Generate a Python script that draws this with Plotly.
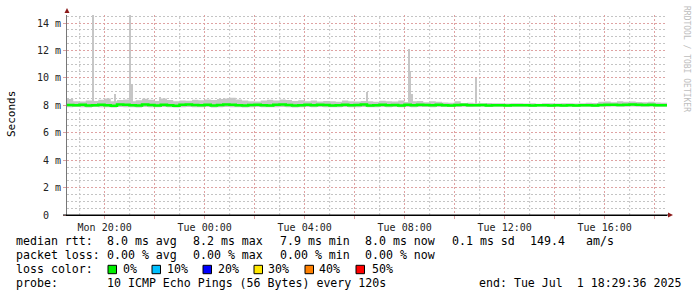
import pandas as pd
import plotly.graph_objects as go

# ---------------- data ----------------
start = "2025-06-30 18:29:36"
end = "2025-07-01 18:29:36"
bin_freq = "15min"

median_ms = [8.02, 8.00, 8.03, 7.98, 8.01, 8.04, 8.00, 7.97, 8.05, 8.03,
             8.00, 7.98, 8.06, 8.02, 7.99, 8.04, 8.01, 7.96, 8.03, 8.05,
             8.02, 8.00, 8.04, 7.99, 8.02, 8.06, 8.03, 8.00, 7.98, 8.02,
             8.04, 8.01, 7.99, 8.03, 8.05, 8.02, 7.98, 8.01, 8.03, 8.00,
             8.04, 8.02, 7.99, 8.01, 8.03, 8.00, 8.02, 8.05, 7.99, 8.01,
             8.03, 8.00, 8.02, 7.98, 8.03, 8.01, 8.04, 8.02, 8.00, 8.03,
             8.01, 7.99, 8.02, 8.03, 8.00, 8.01, 8.02, 7.99, 8.00, 8.01,
             7.99, 8.00, 8.01, 8.00, 7.99, 8.00, 8.01, 7.99, 8.00, 7.98,
             8.00, 7.99, 8.01, 8.00, 7.99, 8.02, 8.03, 8.04, 8.02, 8.03,
             8.05, 8.03, 8.02, 8.04, 8.01, 8.00, 8.00]

smoke_hi_ms = [8.45, 8.30, 8.28, 8.35, 8.32, 8.40, 8.50, 8.30, 8.38, 8.42,
               8.30, 8.36, 8.48, 8.40, 8.32, 8.50, 8.38, 8.30, 8.35, 8.33,
               8.40, 8.36, 8.42, 8.38, 8.45, 8.50, 8.55, 8.42, 8.35, 8.30,
               8.28, 8.35, 8.40, 8.34, 8.42, 8.38, 8.32, 8.36, 8.30, 8.34,
               8.28, 8.32, 8.30, 8.26, 8.34, 8.30, 8.28, 8.32, 8.30, 8.26,
               8.33, 8.30, 8.28, 8.35, 8.24, 8.30, 8.32, 8.22, 8.30, 8.26,
               8.20, 8.18, 8.30, 8.16, 8.18, 8.14, 8.15, 8.16, 8.14, 8.15,
               8.13, 8.14, 8.15, 8.13, 8.14, 8.12, 8.15, 8.14, 8.13, 8.15,
               8.14, 8.13, 8.15, 8.18, 8.16, 8.25, 8.28, 8.22, 8.30, 8.26,
               8.28, 8.24, 8.22, 8.26, 8.20, 8.18, 8.18]

smoke_lo_ms = [7.86, 7.88, 7.85, 7.84, 7.87, 7.85, 7.86, 7.83, 7.88, 7.86,
               7.85, 7.84, 7.87, 7.86, 7.85, 7.88, 7.86, 7.83, 7.86, 7.87,
               7.86, 7.85, 7.87, 7.84, 7.86, 7.88, 7.86, 7.85, 7.84, 7.86,
               7.87, 7.86, 7.85, 7.86, 7.88, 7.86, 7.84, 7.86, 7.87, 7.85,
               7.87, 7.86, 7.85, 7.86, 7.87, 7.85, 7.86, 7.88, 7.85, 7.86,
               7.87, 7.86, 7.87, 7.85, 7.87, 7.86, 7.88, 7.87, 7.86, 7.87,
               7.88, 7.87, 7.88, 7.89, 7.88, 7.89, 7.90, 7.88, 7.89, 7.90,
               7.89, 7.90, 7.90, 7.89, 7.88, 7.89, 7.90, 7.88, 7.89, 7.88,
               7.89, 7.88, 7.90, 7.89, 7.88, 7.89, 7.90, 7.91, 7.89, 7.90,
               7.91, 7.90, 7.89, 7.90, 7.89, 7.89, 7.89]

spike_times = ["2025-06-30 19:32", "2025-06-30 20:24", "2025-06-30 21:01",
               "2025-06-30 21:07", "2025-06-30 22:13", "2025-07-01 06:30",
               "2025-07-01 08:10", "2025-07-01 08:14", "2025-07-01 08:19",
               "2025-07-01 10:51"]
spike_top_ms = [14.7, 8.8, 14.6, 9.5, 8.6, 8.95, 12.1, 10.5, 8.8, 10.0]
spike_base_ms = 7.95

y_label_alias = {"0": "0\u00a0\u00a0", "2": "2 m", "4": "4 m", "6": "6 m", "8": "8 m",
                 "10": "10 m", "12": "12 m", "14": "14 m"}
x_hidden_labels = ["Mon 22:00", "Tue 02:00", "Tue 06:00", "Tue 10:00", "Tue 14:00", "Tue 18:00"]
x_minor_grid = ["2025-06-30 19:00", "2025-06-30 21:00", "2025-06-30 23:00",
                "2025-07-01 01:00", "2025-07-01 03:00", "2025-07-01 05:00",
                "2025-07-01 07:00", "2025-07-01 09:00", "2025-07-01 11:00",
                "2025-07-01 13:00", "2025-07-01 15:00", "2025-07-01 17:00"]

loss_labels = ["0%", "10%", "20%", "30%", "40%", "50%"]
loss_colors = ["#00ee00", "#00c0ff", "#0000ff", "#ffe800", "#ff8000", "#ff0000"]

rtt_stats = ["8.0 ms avg", "8.2 ms max", "7.9 ms min", "8.0 ms now", "0.1 ms sd", "149.4", "am/s"]
loss_stats = ["0.00 % avg", "0.00 % max", "0.00 % min", "0.00 % now"]
probe_text = "10 ICMP Echo Pings (56 Bytes) every 120s"
end_text = "end: Tue Jul\u00a0\u00a01 18:29:36 2025"

# ---------------- layout constants (pixels) ----------------
W, H = 697, 297
L, R, T, B = 67, 30, 15, 82
PW, PH = W - L - R, H - T - B
MONO = "DejaVu Sans Mono"
DOTS = "2px,2px"


def px(xp):
    return (xp - L) / PW


def py(yp):
    return (H - B - yp) / PH


times = pd.date_range(start, periods=len(median_ms), freq=bin_freq)

fig = go.Figure()

fig.add_trace(go.Scatter(x=times, y=smoke_lo_ms, mode="lines", line=dict(width=0, shape="hv"),
                         hoverinfo="skip", showlegend=False))
fig.add_trace(go.Scatter(x=times, y=smoke_hi_ms, mode="lines", line=dict(width=0, shape="hv"),
                         fill="tonexty", fillcolor="#c6c6c6", hoverinfo="skip", showlegend=False))
fig.add_trace(go.Bar(x=pd.to_datetime(spike_times), y=[v - spike_base_ms for v in spike_top_ms],
                     base=spike_base_ms, width=170000, marker=dict(color="#c6c6c6", line=dict(width=0)),
                     showlegend=False))
fig.add_trace(go.Scatter(x=times, y=median_ms, mode="lines",
                         line=dict(color="#00ff00", width=2.5, shape="hv"), showlegend=False))

grid_major = "#dfa2a2"
grid_minor = "#c4c4c4"

fig.update_layout(
    xaxis=dict(type="date", range=[start, end],
               tickmode="linear", tick0="2025-06-30 20:00", dtick=7200000,
               tickformat="%a %H:%M", labelalias={k: "\u00a0" for k in x_hidden_labels},
               showgrid=True, gridcolor=grid_major, gridwidth=1, griddash=DOTS,
               ticks="outside", ticklen=3, tickcolor=grid_major,
               showline=True, linecolor="#000000", linewidth=1,
               tickfont=dict(family=MONO, size=10, color="#222222"),
               zeroline=False, fixedrange=True),
    yaxis=dict(range=[0, 14.583],
               tickmode="linear", tick0=0, dtick=2, labelalias=y_label_alias,
               showgrid=True, gridcolor=grid_major, gridwidth=1, griddash=DOTS,
               ticks="outside", ticklen=3, tickcolor=grid_major,
               minor=dict(tickmode="linear", dtick=0.5, tick0=0, showgrid=True, gridcolor=grid_minor,
                          griddash=DOTS, gridwidth=1),
               showline=True, linecolor="#777777", linewidth=1,
               tickfont=dict(family=MONO, size=10, color="#222222"),
               zeroline=False, fixedrange=True),
)

annotations = []


def text_at(xp, yp, s, size=11.6, color="#000000", family=MONO):
    annotations.append(dict(xref="paper", yref="paper", x=px(xp - 1), y=py(yp),
                            xanchor="left", yanchor="middle", text=s, showarrow=False,
                            font=dict(family=family, size=size, color=color), borderpad=0))


annotations.append(dict(xref="paper", yref="paper", x=px(11), y=py(114), xanchor="center",
                        yanchor="middle", text="Seconds", textangle=-90, showarrow=False,
                        font=dict(family=MONO, size=11, color="#000000")))
annotations.append(dict(xref="paper", yref="paper", x=px(686), y=py(59), xanchor="center",
                        yanchor="middle", text="RRDTOOL / TOBI OETIKER", textangle=90, showarrow=False,
                        font=dict(family=MONO, size=8, color="#bdbdbd")))

line_y = [241, 255, 269, 283]
col_x = [107, 193, 280, 365, 452, 530, 586]

text_at(16, line_y[0], "median rtt:")
for xp, s in zip(col_x, rtt_stats):
    text_at(xp, line_y[0], s)
text_at(16, line_y[1], "packet loss:")
for xp, s in zip(col_x, loss_stats):
    text_at(xp, line_y[1], s)
text_at(16, line_y[2], "loss color:")
sw_x = [108, 152, 203, 254, 305, 356]
lab_x = [123, 167, 218, 268, 319, 372]
shapes = []
# hourly minor vertical grid
for t in x_minor_grid:
    shapes.append(dict(type="line", xref="x", yref="paper", x0=t, x1=t, y0=0, y1=1,
                       line=dict(color=grid_minor, width=1, dash=DOTS), layer="below"))
for sx, lx, lab, c in zip(sw_x, lab_x, loss_labels, loss_colors):
    text_at(lx, line_y[2], lab)
    shapes.append(dict(type="rect", xref="paper", yref="paper",
                       x0=px(sx), x1=px(sx + 8.5), y0=py(273.7), y1=py(265.3),
                       fillcolor=c, line=dict(color="#000000", width=1)))
text_at(16, line_y[3], "probe:")
text_at(107, line_y[3], probe_text)
text_at(479, line_y[3], end_text)

arrow_col = "#8b1a1a"
shapes.append(dict(type="path", xref="paper", yref="paper",
                   path=f"M {px(64.5)} {py(13)} L {px(69.5)} {py(13)} L {px(67)} {py(8)} Z",
                   fillcolor=arrow_col, line=dict(width=0)))
shapes.append(dict(type="path", xref="paper", yref="paper",
                   path=f"M {px(668)} {py(212.5)} L {px(668)} {py(217.5)} L {px(673)} {py(215)} Z",
                   fillcolor=arrow_col, line=dict(width=0)))
shapes.append(dict(type="line", xref="paper", yref="paper", x0=px(63), x1=px(668), y0=0, y1=0,
                   line=dict(color="#000000", width=1)))

fig.update_layout(width=W, height=H, margin=dict(l=L, r=R, t=T, b=B, pad=0),
                  paper_bgcolor="#ffffff", plot_bgcolor="#ffffff",
                  showlegend=False, bargap=0, barmode="overlay",
                  annotations=annotations, shapes=shapes)

fig.write_html("out.html")
